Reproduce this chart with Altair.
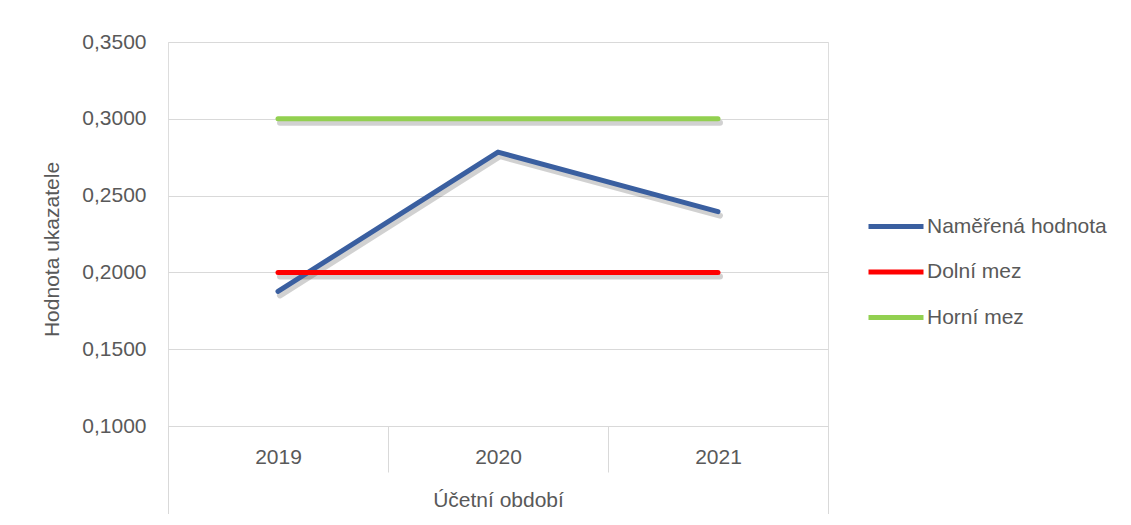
import altair as alt
import pandas as pd

years = ["2019", "2020", "2021"]
measured = [0.1876, 0.2783, 0.2396]
lower = [0.2, 0.2, 0.2]
upper = [0.3, 0.3, 0.3]
series_names = ["Naměřená hodnota", "Dolní mez", "Horní mez"]
series_colors = ["#3a5fa0", "#ff0000", "#92d050"]
y_ticks = [0.10, 0.15, 0.20, 0.25, 0.30, 0.35]

rows = []
for name, vals in zip(series_names, [measured, lower, upper]):
    for yr, v in zip(years, vals):
        rows.append({"year": yr, "value": v, "series": name})
df = pd.DataFrame(rows)

FONT = "Liberation Sans"
TXT = "#595959"
GRID = "#d9d9d9"

xscale = alt.Scale(type="band", paddingInner=0, paddingOuter=0, domain=years)
yscale = alt.Scale(domain=[0.1, 0.35], nice=False, zero=False)

base = alt.Chart(df)

# subtle drop shadow + outer frame lines of the category axis
shadow = base.mark_line(
    strokeWidth=6, color="#000000", opacity=0.18, xOffset=2, yOffset=4,
    strokeCap="round", strokeJoin="round"
).encode(
    x=alt.X("year:N", scale=xscale, axis=alt.Axis(
        orient="bottom", title=None, labels=False, domain=False, grid=False,
        tickBand="extent", tickSize=92, tickWidth=1,
        tickColor={"condition": {"test": "datum.index < 0 || datum.index == 1 || !!datum.extra",
                                 "value": GRID}, "value": "transparent"},
    )),
    y=alt.Y("value:Q", scale=yscale, axis=None),
    detail="series:N",
)

main = base.mark_line(strokeWidth=5, strokeCap="round", strokeJoin="round").encode(
    x=alt.X("year:N", scale=xscale, axis=alt.Axis(
        orient="bottom",
        title="Účetní období", labelAngle=0, domainColor=GRID, domainWidth=1,
        tickColor=GRID, tickWidth=1, tickSize=46, tickBand="extent",
        labelBaseline="middle", labelPadding=-15, labelFontSize=21, labelColor=TXT,
        titleFontSize=21, titleColor=TXT, titleFontWeight="normal",
        titleY=74, titleBaseline="middle", grid=False,
    )),
    y=alt.Y("value:Q", scale=yscale, axis=alt.Axis(
        orient="left",
        title="Hodnota ukazatele", values=y_ticks, grid=True, gridColor=GRID,
        gridWidth=1, domain=False, ticks=False, labelPadding=22,
        labelFontSize=21, labelColor=TXT,
        labelExpr="replace(format(datum.value, '.4f'), '.', ',')",
        titleFontSize=21, titleColor=TXT, titleFontWeight="normal",
        titleX=-116, titleY=207, titleAngle=270, titleAlign="center",
        titleBaseline="middle",
    )),
    color=alt.Color("series:N", sort=series_names,
                    scale=alt.Scale(domain=series_names, range=series_colors),
                    legend=alt.Legend(
                        title=None, orient="none", legendX=698, legendY=154.5,
                        symbolType="stroke", symbolSize=3025, symbolStrokeWidth=5,
                        labelFontSize=21, labelColor=TXT, labelOffset=1,
                        labelLimit=400,
                        rowPadding=5.5, padding=0, labelBaseline="middle",
                    )),
)

chart = alt.layer(shadow, main).resolve_axis(x="independent", y="independent").properties(
    width=660, height=384,
    padding={"left": 160, "top": 34, "right": 290, "bottom": 88},
    autosize=alt.AutoSizeParams(type="none"),
).configure_view(stroke=None).configure(font=FONT).configure_axis(
    labelFont=FONT, titleFont=FONT
).configure_legend(labelFont=FONT)

chart.save("out.html", embed_options={"renderer": "svg", "actions": False})
